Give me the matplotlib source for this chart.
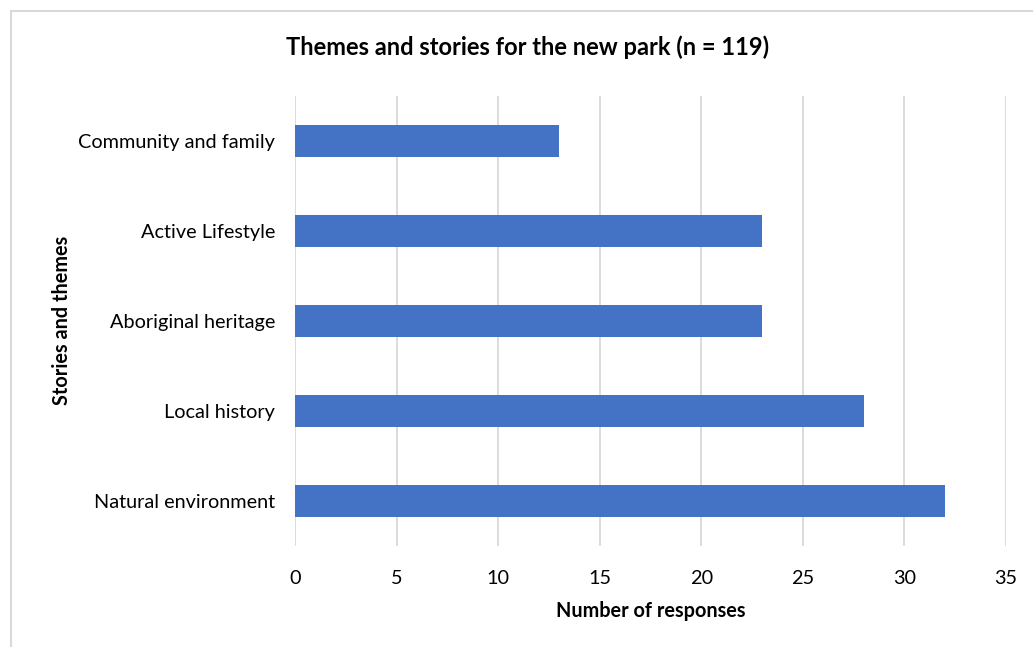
import matplotlib.pyplot as plt
from matplotlib.lines import Line2D

# Survey responses per theme
themes = ['Natural environment', 'Local history', 'Aboriginal heritage',
          'Active Lifestyle', 'Community and family']
responses = [32, 28, 23, 23, 13]
x_ticks = [0, 5, 10, 15, 20, 25, 30, 35]

plt.rcParams['font.family'] = ['Lato', 'DejaVu Sans']

fig = plt.figure(figsize=(10.33, 6.47), dpi=100)
ax = fig.add_axes([0.2856, 0.1561, 0.6883, 0.6955])

ax.barh(range(len(themes)), responses, height=0.357, color='#4472C4', zorder=3)

ax.set_xlim(0, 35)
ax.set_ylim(-0.5, len(themes) - 0.5)
ax.set_xticks(x_ticks)
ax.set_yticks(range(len(themes)))
ax.set_yticklabels(themes)
ax.tick_params(axis='both', length=0, labelsize=14.3, colors='#000000')
ax.tick_params(axis='x', pad=17)
ax.tick_params(axis='y', pad=14.5)

ax.grid(axis='x', color='#D9D9D9', linewidth=1.3, zorder=0)
for s in ax.spines.values():
    s.set_visible(False)

ax.set_xlabel('Number of responses', fontsize=14.3, fontweight='bold', labelpad=10)

# y axis title placed in figure coords, just left of the category labels
fig.text(0.060, 0.505, 'Stories and themes', rotation=90, ha='center', va='center',
         fontsize=14.3, fontweight='bold')

fig.text(0.511, 0.927, 'Themes and stories for the new park (n = 119)',
         ha='center', va='center', fontsize=17, fontweight='bold')

# chart area frame (top and left edges)
fig.add_artist(Line2D([0.0106, 0.0106], [0.0, 0.983], transform=fig.transFigure,
                      color='#D9D9D9', linewidth=1.5))
fig.add_artist(Line2D([0.0106, 1.0], [0.983, 0.983], transform=fig.transFigure,
                      color='#D9D9D9', linewidth=1.5))

fig.savefig('out.png', dpi=100)
